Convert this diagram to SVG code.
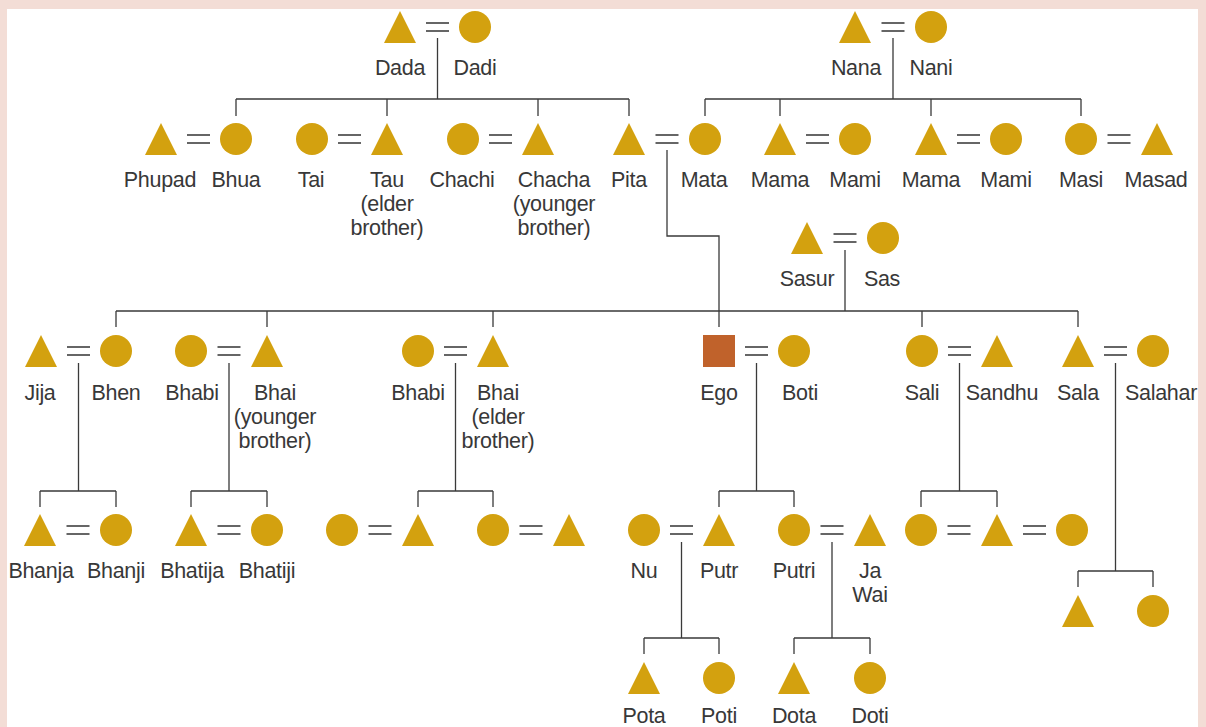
<svg xmlns="http://www.w3.org/2000/svg" width="1206" height="727" viewBox="0 0 1206 727">
<defs>
<style>
.f{fill:#d3a10f}
.ego{fill:#c0622b}
.t{font-family:"Liberation Sans",Arial,sans-serif;font-size:21.5px;letter-spacing:-0.3px;fill:#383838;text-anchor:middle}
.c{fill:none;stroke:#3a3a3a;stroke-width:1.3}
.eq{fill:none;stroke:#666;stroke-width:1.8}
</style>
<symbol id="tri" overflow="visible"><polygon points="0,-16 -16,16 16,16"/></symbol>
<symbol id="cir" overflow="visible"><circle r="16"/></symbol>
</defs>
<rect x="0" y="0" width="1206" height="727" fill="#f3ddd6"/>
<rect x="7" y="9" width="1191" height="718" fill="#ffffff"/>

<g id="connectors">
<path class="eq" d="M426 23H449M426 31H449 M881.5 23H904.5M881.5 31H904.5 M187 135H210M187 143H210 M338 135H361M338 143H361 M489 135H512M489 143H512 M655.5 135H678.5M655.5 143H678.5 M806 135H829M806 143H829 M957 135H980M957 143H980 M1107.5 135H1130.5M1107.5 143H1130.5 M833.5 234H856.5M833.5 242H856.5 M67 347H90M67 355H90 M217.5 347H240.5M217.5 355H240.5 M444 347H467M444 355H467 M745 347H768M745 355H768 M948 347H971M948 355H971 M1104 347H1127M1104 355H1127 M66.5 526H89.5M66.5 534H89.5 M217.5 526H240.5M217.5 534H240.5 M368.5 526H391.5M368.5 534H391.5 M519.5 526H542.5M519.5 534H542.5 M670 526H693M670 534H693 M820.5 526H843.5M820.5 534H843.5 M947.5 526H970.5M947.5 534H970.5 M1023 526H1046M1023 534H1046"/>
<path class="c" d="M437.5 38V99 M236 99H629 M236 99V116 M387 99V116 M538 99V116 M629 99V116"/>
<path class="c" d="M893 38V99 M705 99H1081 M705 99V116 M780 99V116 M931 99V116 M1081 99V116"/>
<path class="c" d="M667 150V236H719V327"/>
<path class="c" d="M845 250V311 M116 311H1078 M116 311V327 M267 311V327 M493 311V327 M922 311V327 M1078 311V327"/>
<path class="c" d="M78.5 363V491 M40 491H116 M40 491V507 M116 491V507"/>
<path class="c" d="M229 363V491 M191 491H267 M191 491V507 M267 491V507"/>
<path class="c" d="M455.5 363V491 M418 491H493 M418 491V507 M493 491V507"/>
<path class="c" d="M756.5 363V491 M719 491H794 M719 491V507 M794 491V507"/>
<path class="c" d="M959.5 363V491 M921 491H997 M921 491V507 M997 491V507"/>
<path class="c" d="M1115.5 363V571 M1078 571H1153 M1078 571V587 M1153 571V587"/>
<path class="c" d="M681.5 542V638 M644 638H719 M644 638V654 M719 638V654"/>
<path class="c" d="M832 542V638 M794 638H870 M794 638V654 M870 638V654"/>
</g>

<g id="dada"><use href="#tri" class="f" x="400" y="27"/><text class="t" x="400" y="75">Dada</text></g>
<g id="dadi"><use href="#cir" class="f" x="475" y="27"/><text class="t" x="475" y="75">Dadi</text></g>
<g id="nana"><use href="#tri" class="f" x="855" y="27"/><text class="t" x="856" y="75">Nana</text></g>
<g id="nani"><use href="#cir" class="f" x="931" y="27"/><text class="t" x="931" y="75">Nani</text></g>

<g id="phupad"><use href="#tri" class="f" x="161" y="139"/><text class="t" x="160" y="187">Phupad</text></g>
<g id="bhua"><use href="#cir" class="f" x="236" y="139"/><text class="t" x="236" y="187">Bhua</text></g>
<g id="tai"><use href="#cir" class="f" x="312" y="139"/><text class="t" x="311" y="187">Tai</text></g>
<g id="tau"><use href="#tri" class="f" x="387" y="139"/><text class="t" x="387" y="187">Tau</text><text class="t" x="387" y="211">(elder</text><text class="t" x="387" y="235">brother)</text></g>
<g id="chachi"><use href="#cir" class="f" x="463" y="139"/><text class="t" x="462" y="187">Chachi</text></g>
<g id="chacha"><use href="#tri" class="f" x="538" y="139"/><text class="t" x="554" y="187">Chacha</text><text class="t" x="554" y="211">(younger</text><text class="t" x="554" y="235">brother)</text></g>
<g id="pita"><use href="#tri" class="f" x="629" y="139"/><text class="t" x="629" y="187">Pita</text></g>
<g id="mata"><use href="#cir" class="f" x="705" y="139"/><text class="t" x="704" y="187">Mata</text></g>
<g id="mama1"><use href="#tri" class="f" x="780" y="139"/><text class="t" x="780" y="187">Mama</text></g>
<g id="mami1"><use href="#cir" class="f" x="855" y="139"/><text class="t" x="855" y="187">Mami</text></g>
<g id="mama2"><use href="#tri" class="f" x="931" y="139"/><text class="t" x="931" y="187">Mama</text></g>
<g id="mami2"><use href="#cir" class="f" x="1006" y="139"/><text class="t" x="1006" y="187">Mami</text></g>
<g id="masi"><use href="#cir" class="f" x="1081" y="139"/><text class="t" x="1081" y="187">Masi</text></g>
<g id="masad"><use href="#tri" class="f" x="1157" y="139"/><text class="t" x="1156" y="187">Masad</text></g>

<g id="sasur"><use href="#tri" class="f" x="807" y="238"/><text class="t" x="807" y="286">Sasur</text></g>
<g id="sas"><use href="#cir" class="f" x="883" y="238"/><text class="t" x="882" y="286">Sas</text></g>

<g id="jija"><use href="#tri" class="f" x="41" y="351"/><text class="t" x="40" y="400">Jija</text></g>
<g id="bhen"><use href="#cir" class="f" x="116" y="351"/><text class="t" x="116" y="400">Bhen</text></g>
<g id="bhabi1"><use href="#cir" class="f" x="191" y="351"/><text class="t" x="192" y="400">Bhabi</text></g>
<g id="bhai1"><use href="#tri" class="f" x="267" y="351"/><text class="t" x="275" y="400">Bhai</text><text class="t" x="275" y="424">(younger</text><text class="t" x="275" y="448">brother)</text></g>
<g id="bhabi2"><use href="#cir" class="f" x="418" y="351"/><text class="t" x="418" y="400">Bhabi</text></g>
<g id="bhai2"><use href="#tri" class="f" x="493" y="351"/><text class="t" x="498" y="400">Bhai</text><text class="t" x="498" y="424">(elder</text><text class="t" x="498" y="448">brother)</text></g>
<g id="ego"><rect class="ego" x="703" y="335" width="32" height="32"/><text class="t" x="719" y="400">Ego</text></g>
<g id="boti"><use href="#cir" class="f" x="794" y="351"/><text class="t" x="800" y="400">Boti</text></g>
<g id="sali"><use href="#cir" class="f" x="922" y="351"/><text class="t" x="922" y="400">Sali</text></g>
<g id="sandhu"><use href="#tri" class="f" x="997" y="351"/><text class="t" x="1002" y="400">Sandhu</text></g>
<g id="sala"><use href="#tri" class="f" x="1078" y="351"/><text class="t" x="1078" y="400">Sala</text></g>
<g id="salahar"><use href="#cir" class="f" x="1153" y="351"/><text class="t" x="1161" y="400">Salahar</text></g>

<g id="bhanja"><use href="#tri" class="f" x="40" y="530"/><text class="t" x="41" y="578">Bhanja</text></g>
<g id="bhanji"><use href="#cir" class="f" x="116" y="530"/><text class="t" x="116" y="578">Bhanji</text></g>
<g id="bhatija"><use href="#tri" class="f" x="191" y="530"/><text class="t" x="192" y="578">Bhatija</text></g>
<g id="bhatiji"><use href="#cir" class="f" x="267" y="530"/><text class="t" x="267" y="578">Bhatiji</text></g>
<g id="n4a"><use href="#cir" class="f" x="342" y="530"/></g>
<g id="n4b"><use href="#tri" class="f" x="418" y="530"/></g>
<g id="n4c"><use href="#cir" class="f" x="493" y="530"/></g>
<g id="n4d"><use href="#tri" class="f" x="569" y="530"/></g>
<g id="nu"><use href="#cir" class="f" x="644" y="530"/><text class="t" x="644" y="578">Nu</text></g>
<g id="putr"><use href="#tri" class="f" x="719" y="530"/><text class="t" x="719" y="578">Putr</text></g>
<g id="putri"><use href="#cir" class="f" x="794" y="530"/><text class="t" x="794" y="578">Putri</text></g>
<g id="jawai"><use href="#tri" class="f" x="870" y="530"/><text class="t" x="870" y="578">Ja</text><text class="t" x="870" y="602">Wai</text></g>
<g id="n4e"><use href="#cir" class="f" x="921" y="530"/></g>
<g id="n4f"><use href="#tri" class="f" x="997" y="530"/></g>
<g id="n4g"><use href="#cir" class="f" x="1072" y="530"/></g>

<g id="n5a"><use href="#tri" class="f" x="1078" y="611"/></g>
<g id="n5b"><use href="#cir" class="f" x="1153" y="611"/></g>

<g id="pota"><use href="#tri" class="f" x="644" y="678"/><text class="t" x="644" y="723">Pota</text></g>
<g id="poti"><use href="#cir" class="f" x="719" y="678"/><text class="t" x="719" y="723">Poti</text></g>
<g id="dota"><use href="#tri" class="f" x="794" y="678"/><text class="t" x="794" y="723">Dota</text></g>
<g id="doti"><use href="#cir" class="f" x="870" y="678"/><text class="t" x="870" y="723">Doti</text></g>
</svg>
